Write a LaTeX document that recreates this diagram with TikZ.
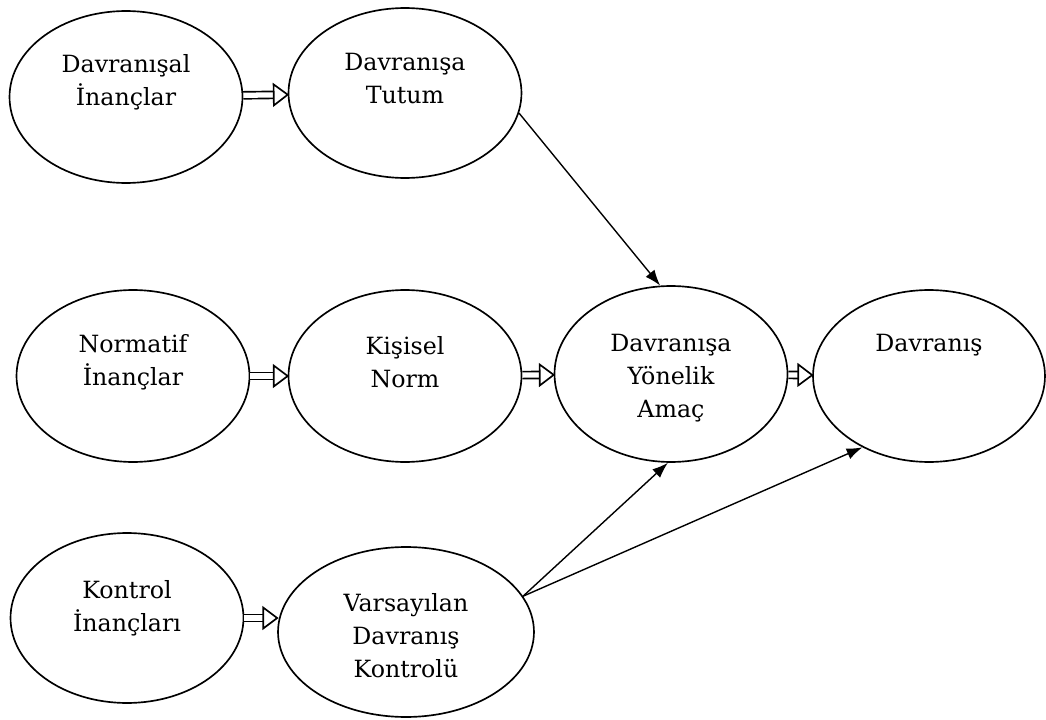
\documentclass[tikz,border=0pt]{standalone}
\usepackage{fontspec}
\setmainfont{DejaVu Serif}
\usetikzlibrary{shapes.geometric,arrows.meta}
\begin{document}
\begin{tikzpicture}[x=0.02cm,y=-0.02cm,
		oval/.style={ellipse,draw,line width=0.95pt,inner sep=0pt,minimum width=4.66cm,minimum height=3.44cm},
		txt/.style={align=center,font=\fontsize{13.5}{18.8}\selectfont},
		dbl/.style={double,double distance=3pt,line width=0.95pt,shorten >=4pt},
		head/.style={isosceles triangle,isosceles triangle stretches,draw,fill=white,line width=0.95pt,
			inner sep=0pt,outer sep=0pt,minimum width=0.42cm,minimum height=0.28cm,sloped,anchor=apex},
		sgl/.style={line width=0.8pt,-{Latex[length=9pt,width=6.5pt]}}]
		\useasboundingbox (0,0) rectangle (1046,720);
		% top row
		\node[oval] (e1) at (126,97) {};
		\node[oval,minimum height=3.4cm] (e2) at (405,93) {};
		% middle row
		\node[oval] (e3) at (133,376) {};
		\node[oval] (e4) at (405,376) {};
		\node[oval,minimum height=3.52cm] (e5) at (671,374) {};
		\node[oval,minimum width=4.64cm] (e6) at (929,376) {};
		% bottom row
		\node[oval,minimum height=3.4cm] (e7) at (127,618) {};
		\node[oval,minimum width=5.12cm,minimum height=3.4cm] (e8) at (406,632) {};
		% texts
		\node[txt] (t1) at (126,82) {Davranışal\\İnançlar};
		\node[txt] (t2) at (405,79) {Davranışa\\Tutum};
		\node[txt] (t3) at (133,362) {Normatif\\İnançlar};
		\node[txt] (t4) at (405,362) {Kişisel\\Norm};
		\node[txt] (t5) at (671,378) {Davranışa\\Yönelik\\Amaç};
		\node[txt] (t6) at (929,345) {Davranış};
		\node[txt] (t7) at (127,608) {Kontrol\\İnançları};
		\node[txt] (t8) at (406,636) {Varsayılan\\Davranış\\Kontrolü};
		% hollow arrows
		\draw[dbl] (e1) -- (e2) node[head,pos=1] (h1) {};
		\draw[dbl] (e3) -- (e4) node[head,pos=1] (h2) {};
		\draw[dbl] (e4) -- (e5) node[head,pos=1] (h3) {};
		\draw[dbl] (e5) -- (e6) node[head,pos=1] (h4) {};
		\draw[dbl] (e7.east) -- (e7.east -| e8.west) node[head,pos=1] (h5) {};
		% thin arrows
		\draw[sgl] (e2.-10) -- (e5.97);
		\draw[sgl] (e8.17) -- (e5.-92);
		\draw[sgl] (e8.17) -- (e6.227);
\end{tikzpicture}
\end{document}
